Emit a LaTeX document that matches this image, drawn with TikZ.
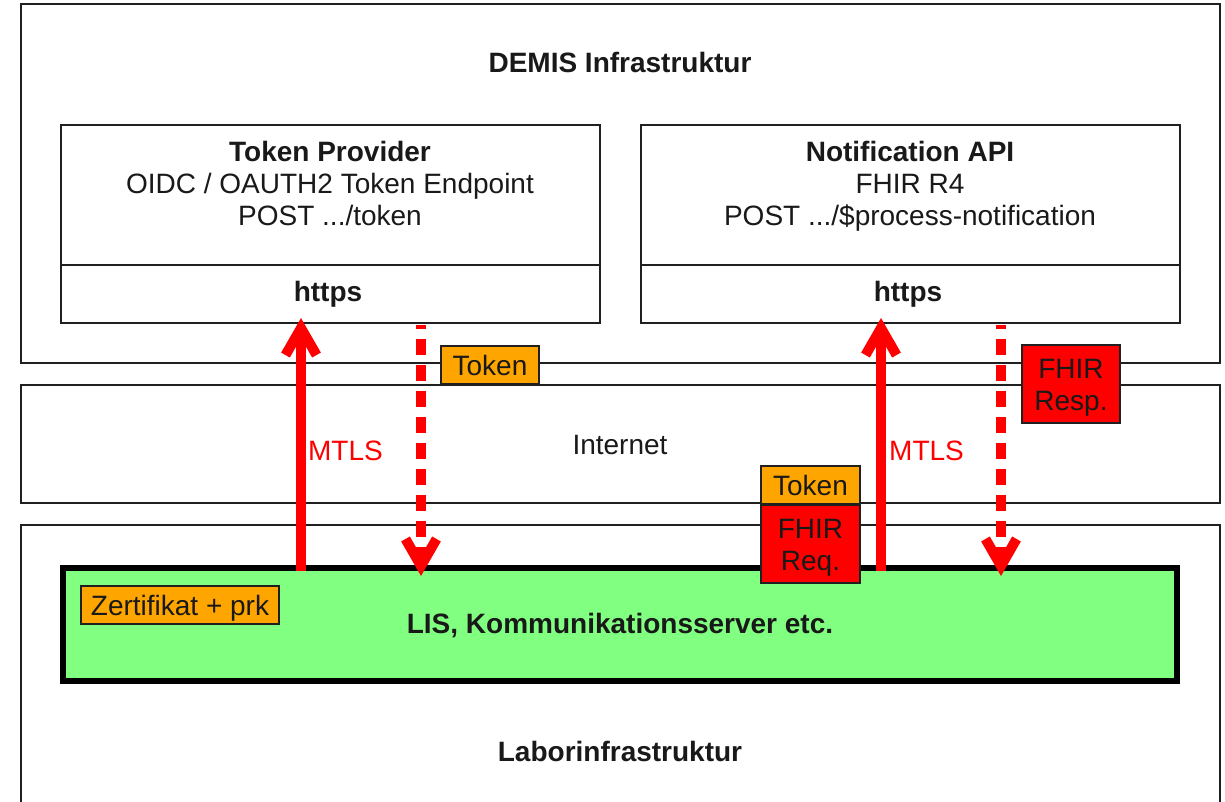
\documentclass[tikz,border=0pt]{standalone}
\usepackage{fontspec}
\setmainfont{Liberation Sans}
\usetikzlibrary{arrows.meta,calc}
\definecolor{tagorange}{HTML}{FFA500}
\definecolor{lisgreen}{HTML}{80FF80}
\definecolor{linegray}{HTML}{202020}
\newcommand{\tstrut}{\vrule width 0pt height 20pt depth 0pt\relax}
\newcommand{\boxnode}[7][]{% style, name, x1, y1, x2, y2, text
  \node[boxbase,#1,minimum width={(#5-#3)*1pt},minimum height={(#6-#4)*1pt}] (#2) at ({(#3+#5)/2},{(#4+#6)/2}) {#7};}
\tikzset{
  x=1pt,y=-1pt,
  every node/.style={font=\fontsize{28}{32}\selectfont,text=black!90,align=center,inner sep=0pt,outer sep=0pt,text depth=0pt},
  boxbase/.style={draw=linegray,line width=1.5pt,fill=white},
  tagorangebox/.style={fill=tagorange},
  tagredbox/.style={fill=red},
  lisbox/.style={fill=lisgreen,line width=6pt,draw=black},
  titletext/.style={font=\fontsize{28}{32}\selectfont\bfseries},
  mtlstext/.style={text=red},
  solidarrow/.style={draw=red,line width=10pt,-{Straight Barb[length=27pt,width=31pt]}},
  dashedarrow/.style={draw=red,line width=10pt,dash pattern=on 16pt off 10pt,dash phase=12pt,-{Straight Barb[length=27pt,width=31pt]}},
}
\begin{document}
\begin{tikzpicture}
\useasboundingbox (0,0) rectangle (1225,801);
\fill[white] (0,0) rectangle (1225,801);
\boxnode{demis}{21}{4}{1220}{363}{}
\boxnode{internet}{21}{385}{1220}{503}{}
\boxnode{labor}{21}{525}{1220}{815}{}
\node[titletext] (demislabel) at (620,62) {\tstrut DEMIS Infrastruktur};
\node (internetlabel) at (620,444) {\tstrut Internet};
\node[titletext] (laborlabel) at (620,751) {\tstrut Laborinfrastruktur};
\boxnode{tokenbox}{61}{125}{600}{265}{}
\boxnode{tokenhttps}{61}{265}{600}{323}{}
\boxnode{apibox}{641}{125}{1180}{265}{}
\boxnode{apihttps}{641}{265}{1180}{323}{}
\node (tokentxt) at (330,183) {\tstrut\textbf{Token Provider}\\\tstrut OIDC / OAUTH2 Token Endpoint\\\tstrut POST .../token};
\node (apitxt) at (910,183) {\tstrut\textbf{Notification API}\\\tstrut FHIR R4\\\tstrut POST .../\$process-notification};
\node[titletext] (tokenhttpslabel) at (328,291) {\tstrut https};
\node[titletext] (apihttpslabel) at (908,291) {\tstrut https};
\boxnode[lisbox]{lis}{63}{568}{1177}{681}{}
\node[titletext] (lislabel) at (620,623) {\tstrut LIS, Kommunikationsserver etc.};
\coordinate (a1s) at (301,571); \coordinate (a1e) at (301,318);
\coordinate (d1s) at (421,325); \coordinate (d1e) at (421,576);
\coordinate (a2s) at (881,571); \coordinate (a2e) at (881,318);
\coordinate (d2s) at (1001,325); \coordinate (d2e) at (1001,576);
\draw[solidarrow] (a1s) -- (a1e);
\draw[dashedarrow] (d1s) -- (d1e);
\draw[solidarrow] (a2s) -- (a2e);
\draw[dashedarrow] (d2s) -- (d2e);
\node[mtlstext] (mtls1) at (345.5,450) {\tstrut MTLS};
\node[mtlstext] (mtls2) at (926.5,450) {\tstrut MTLS};
\boxnode[tagorangebox]{token1}{441}{346}{539}{384}{\tstrut Token}
\boxnode[tagredbox]{resp}{1022}{345}{1120}{423}{\tstrut FHIR\\\tstrut Resp.}
\boxnode[tagorangebox]{token2}{761}{466}{860}{504}{\tstrut Token}
\boxnode[tagredbox]{req}{761}{505}{860}{583}{\tstrut FHIR\\\tstrut Req.}
\boxnode[tagorangebox]{cert}{81}{586}{279}{624}{\tstrut Zertifikat + prk}
\end{tikzpicture}
\end{document}
